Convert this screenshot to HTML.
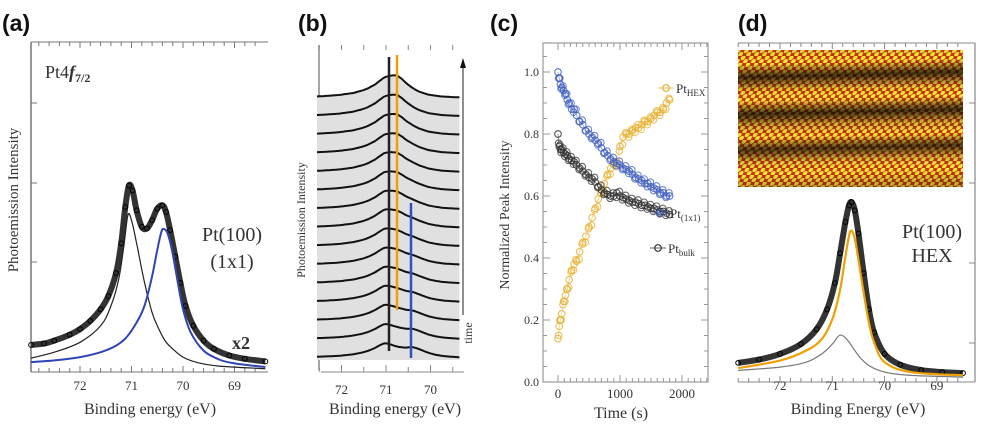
<!DOCTYPE html>
<html><head><meta charset="utf-8">
<style>
html,body{margin:0;padding:0;background:#fff}
svg{display:block}
text{font-family:"Liberation Serif",serif;fill:#333}
.lab{font-family:"Liberation Sans",sans-serif;font-weight:bold;fill:#111}
</style></head>
<body>
<svg id="fig" width="984" height="438" viewBox="0 0 984 438" xmlns="http://www.w3.org/2000/svg">
<defs>
<linearGradient id="stmBands" x1="0" y1="0" x2="0.04" y2="1">
<stop offset="0" stop-color="#000" stop-opacity="0.1"/><stop offset="0.1" stop-color="#000" stop-opacity="0"/>
<stop offset="0.2" stop-color="#000" stop-opacity="0.75"/><stop offset="0.3" stop-color="#000" stop-opacity="0.1"/>
<stop offset="0.37" stop-color="#000" stop-opacity="0"/><stop offset="0.47" stop-color="#000" stop-opacity="0.75"/>
<stop offset="0.56" stop-color="#000" stop-opacity="0.2"/><stop offset="0.64" stop-color="#000" stop-opacity="0"/>
<stop offset="0.73" stop-color="#000" stop-opacity="0.7"/><stop offset="0.82" stop-color="#000" stop-opacity="0.15"/>
<stop offset="0.9" stop-color="#000" stop-opacity="0"/><stop offset="1" stop-color="#000" stop-opacity="0.25"/>
</linearGradient>
<pattern id="stmDots" width="8" height="7" patternUnits="userSpaceOnUse" patternTransform="skewX(-25)">
<circle cx="2" cy="1.75" r="2.3" fill="#ffe640"/>
<circle cx="6" cy="5.25" r="2.3" fill="#ffe640"/>
</pattern>
</defs>
<g id="pa"></g>
<g id="pb"></g>
<g id="pc"></g>
<g id="pd"></g>
</svg>
<script>
// ---------- Panel (a) data ----------
const aDataE = [72.95,72.7,72.5,72.2,72.0,71.8,71.6,71.45,71.3,71.2,71.12,71.05,70.98,70.9,70.8,70.7,70.6,70.5,70.4,70.33,70.25,70.15,70.05,69.95,69.8,69.6,69.4,69.1,68.8,68.4];
const aDataI = [8.2,8.6,9.5,11.3,13,15.5,19,23,30,39,50,56.5,55,49,44,43.5,46,49.5,50.5,48.5,43,35,27,20,14,9.5,7,5,4,3.2];
const aBulkE = [72.95,72.5,72.0,71.6,71.4,71.25,71.15,71.07,71.0,70.9,70.8,70.7,70.6,70.5,70.35,70.2,70.0,69.7,69.3,68.4];
const aBulkI = [4.2,6,9,14,20,28,38,47.5,46,39,31,24,18,14,9.5,7,4.5,2.8,1.8,1.0];
const aSurfE = [72.95,72.5,72.0,71.6,71.3,71.1,70.9,70.75,70.6,70.5,70.42,70.37,70.3,70.2,70.1,70.0,69.85,69.6,69.3,69.0,68.4];
const aSurfI = [3,3.5,4.5,6,8,10.5,15,20,29,37,42.5,43.3,42,36,27,19,12,6.5,3.8,2.6,1.5];
const aXTicks = [72,71,70,69];

// ---------- Panel (b) data ----------
const bProfileE = [72.8,72.4,72.0,71.7,71.5,71.35,71.2,71.1,71.0,70.9,70.8,70.65,70.5,70.3,70.0,69.7,69.4,69.0];
const bProfileI = [0.05,0.08,0.14,0.24,0.36,0.5,0.7,0.88,1.0,0.9,0.72,0.48,0.3,0.16,0.07,0.035,0.02,0.01];
const bBulkAmp = [11,11,11,11,11.5,11.5,11.5,12,12,12,12,12,12,12,12];
const bHexAmp  = [15,14,13,12,11,10,9,8,7,6,5,4,3,1.5,0];
const bSurfAmp = [0,0.5,1,1.5,2,2.5,3,3.5,4,4.5,5,5.5,6,7,8];
const bXTicks = [72,71,70];

// ---------- Panel (c) data ----------
const cTimeSurf = [0,20,40,60,90,120,150,180,220,260,300,350,400,450,500,550,600,650,700,750,800,850,900,950,1000,1050,1100,1150,1200,1250,1300,1350,1400,1450,1500,1550,1600,1650,1700,1750,1800];
const cSurf = [1.0,0.98,0.96,0.95,0.94,0.93,0.91,0.90,0.88,0.88,0.86,0.84,0.83,0.81,0.80,0.79,0.78,0.77,0.755,0.74,0.73,0.72,0.71,0.705,0.70,0.69,0.685,0.68,0.67,0.66,0.655,0.65,0.64,0.64,0.63,0.625,0.62,0.61,0.61,0.60,0.60];
const cBulk = [0.80,0.76,0.75,0.75,0.74,0.735,0.73,0.72,0.715,0.71,0.70,0.69,0.68,0.67,0.66,0.655,0.645,0.63,0.62,0.61,0.605,0.60,0.60,0.61,0.60,0.595,0.59,0.585,0.58,0.58,0.575,0.57,0.57,0.565,0.56,0.56,0.555,0.55,0.55,0.545,0.54];
const cHex  = [0.14,0.18,0.20,0.22,0.26,0.28,0.30,0.33,0.36,0.38,0.39,0.42,0.45,0.47,0.50,0.53,0.56,0.59,0.61,0.64,0.67,0.69,0.70,0.71,0.76,0.79,0.80,0.80,0.81,0.82,0.82,0.83,0.84,0.84,0.85,0.86,0.87,0.87,0.88,0.90,0.91];
const cYTicks = [0.0,0.2,0.4,0.6,0.8,1.0];
const cXTicks = [0,1000,2000];

// ---------- Panel (d) data ----------
const dDataE = [72.8,72.4,72.0,71.6,71.3,71.1,70.95,70.85,70.75,70.68,70.63,70.57,70.5,70.4,70.3,70.2,70.0,69.7,69.3,68.9,68.5];
const dDataI = [5.8,6.8,8.5,11.5,16,22,30,39,48.5,53.5,54.5,52,45,33,22,15,8.5,5.2,3.6,3,2.7];
const dHexE = [72.8,72.0,71.5,71.2,71.0,70.85,70.75,70.66,70.58,70.5,70.4,70.3,70.2,70.0,69.5,68.5];
const dHexI = [4.2,6.5,9.5,13,19,28,38,45.5,44,37,27,18,12,6,3,2];
const dBulkE = [72.8,72.0,71.5,71.2,71.0,70.85,70.7,70.5,70.3,70.0,69.5,68.5];
const dBulkI = [3.5,4.5,6,8.5,11.5,14.2,12.5,8,5,3,2,1.5];
const dXTicks = [72,71,70,69];

// ---------- helpers ----------
const NS = "http://www.w3.org/2000/svg";
function mk(tag, attrs, parent){const e=document.createElementNS(NS,tag);for(const k in attrs)e.setAttribute(k,attrs[k]);if(parent)parent.appendChild(e);return e;}
function smooth(pts){
  let d="M"+pts[0][0].toFixed(1)+","+pts[0][1].toFixed(1);
  for(let i=0;i<pts.length-1;i++){
    const p0=pts[Math.max(0,i-1)],p1=pts[i],p2=pts[i+1],p3=pts[Math.min(pts.length-1,i+2)];
    const c1=[p1[0]+(p2[0]-p0[0])/6,p1[1]+(p2[1]-p0[1])/6];
    const c2=[p2[0]-(p3[0]-p1[0])/6,p2[1]-(p3[1]-p1[1])/6];
    d+=" C"+c1[0].toFixed(1)+","+c1[1].toFixed(1)+" "+c2[0].toFixed(1)+","+c2[1].toFixed(1)+" "+p2[0].toFixed(1)+","+p2[1].toFixed(1);
  }
  return d;
}
function txt(g,x,y,s,size,extra){const t=mk("text",Object.assign({x:x,y:y,"font-size":size},extra||{}),g);t.textContent=s;return t;}

// ---------- Panel (a) ----------
(function(){
  const g=document.getElementById("pa");
  const X0=31,X1=268,Y0=42,Y1=372;
  const xs=e=>80+(72-e)*51.5, ys=v=>Y1-v*3.3;
  const ax=mk("g",{},g);
  
  mk("line",{x1:X0,y1:Y0,x2:X0,y2:Y1,stroke:"#777","stroke-width":1.5},ax);
  mk("line",{x1:X0,y1:Y0,x2:X1,y2:Y0,stroke:"#777","stroke-width":1},ax);
  mk("line",{x1:X0,y1:Y1,x2:X1,y2:Y1,stroke:"#777","stroke-width":1},ax);
  for(let e=72.8;e>=68.5;e-=0.2){const x=xs(e);const maj=Math.abs(e-Math.round(e))<0.01;
    mk("line",{x1:x,y1:Y0,x2:x,y2:Y0+(maj?6:4),stroke:"#777"},ax);
    mk("line",{x1:x,y1:Y1,x2:x,y2:Y1-(maj?6:4),stroke:"#777"},ax);}
  [103,183,262].forEach(y=>mk("line",{x1:X0,y1:y,x2:X0+6,y2:y,stroke:"#777"},ax));
  aXTicks.forEach(t=>{const tl=txt(g,xs(t),390,String(t),13,{"text-anchor":"middle"});
    });
  const dp=mk("path",{d:smooth(aDataE.map((e,i)=>[xs(e),ys(aDataI[i])])),fill:"none",stroke:"#333","stroke-width":6,"stroke-linejoin":"round"},g);
  
  aDataE.forEach((e,i)=>{const c=mk("circle",{cx:xs(e),cy:ys(aDataI[i]),r:2.4,fill:"none",stroke:"#000","stroke-width":1},g);
    });
  const bp=mk("path",{d:smooth(aBulkE.map((e,i)=>[xs(e),ys(aBulkI[i])])),fill:"none",stroke:"#222","stroke-width":1.2},g);
  
  const sp=mk("path",{d:smooth(aSurfE.map((e,i)=>[xs(e),ys(aSurfI[i])])),fill:"none",stroke:"#2f45b5","stroke-width":2},g);
  
  let t=txt(g,2,31,"(a)",23,{class:"lab"});
  t=mk("text",{x:45,y:78,"font-size":18},g);t.innerHTML='Pt4<tspan font-style="italic" font-weight="bold">f</tspan><tspan font-size="12" dy="4" font-weight="bold">7/2</tspan>';
  
  t=txt(g,232,241,"Pt(100)",20,{"text-anchor":"middle"});
  t=txt(g,232,268,"(1x1)",20,{"text-anchor":"middle"});
  t=txt(g,232,349,"x2",18,{"font-weight":"bold",fill:"#111"});
  t=txt(g,18,200,"Photoemission Intensity",15,{"text-anchor":"middle",transform:"rotate(-90 18 200)"});
  t=txt(g,150,414,"Binding energy (eV)",16,{"text-anchor":"middle"});
})();

// ---------- Panel (b) ----------
(function(){
  const g=document.getElementById("pb");
  const X0=321,X1=464,Y1=372;
  const xs=e=>386+(71-e)*44.5;
  const ax=mk("g",{},g);
  
  mk("line",{x1:X0-2,y1:45,x2:X0-2,y2:Y1-2,stroke:"#888","stroke-width":1.5},ax);
  mk("line",{x1:X0,y1:Y1,x2:X1,y2:Y1,stroke:"#888","stroke-width":1},ax);
  for(let e=72.5;e>=69.4;e-=0.5){const x=xs(e);const maj=Math.abs(e-Math.round(e))<0.01;
    mk("line",{x1:x,y1:45,x2:x,y2:50,stroke:"#888"},ax);
    mk("line",{x1:x,y1:Y1,x2:x,y2:Y1-(maj?7:5),stroke:"#888"},ax);}
  bXTicks.forEach(t=>{const tl=txt(g,xs(t),394,String(t),13,{"text-anchor":"middle"});
    });
  function prof(e){
    if(e>=bProfileE[0])return bProfileI[0]; if(e<=bProfileE[bProfileE.length-1])return bProfileI[bProfileI.length-1];
    for(let i=0;i<bProfileE.length-1;i++){if(e<=bProfileE[i]&&e>=bProfileE[i+1]){const f=(bProfileE[i]-e)/(bProfileE[i]-bProfileE[i+1]);return bProfileI[i]+f*(bProfileI[i+1]-bProfileI[i]);}}
    return 0;}
  const n=bBulkAmp.length, step=(358-98)/(n-1);
  const curves=[];
  for(let k=0;k<n;k++){
    const base=98+k*step;
    const pts=[];
    for(let e=72.55;e>=69.35;e-=0.05){
      const v=bBulkAmp[k]*prof(e-0.03)+bHexAmp[k]*prof(e+0.25)+bSurfAmp[k]*prof(e+0.62);
      pts.push([xs(e),base-v*1.05]);
    }
    curves.push(pts);
  }
  const top=curves[0];
  const fillD=smooth(top)+" L"+top[top.length-1][0].toFixed(1)+",360 L"+top[0][0].toFixed(1)+",360 Z";
  const bg=mk("path",{d:fillD,fill:"#e0e0e0"},g);
  
  curves.forEach((pts,k)=>{
    const p=mk("path",{d:smooth(pts),fill:"none",stroke:"#111","stroke-width":2},g);
    
    
  });
  let l=mk("line",{x1:389,y1:57,x2:389,y2:351,stroke:"#222","stroke-width":2.5},g);
  l=mk("line",{x1:397,y1:55,x2:397,y2:310,stroke:"#f0a000","stroke-width":2.5},g);
  l=mk("line",{x1:411,y1:203,x2:411,y2:358,stroke:"#3050c0","stroke-width":2.5},g);
  l=mk("line",{x1:463,y1:315,x2:463,y2:66,stroke:"#222","stroke-width":1},g);
  mk("polygon",{points:"463,58 460,68 466,68",fill:"#111"},g);
  let t=txt(g,472,333,"time",12,{"text-anchor":"middle",transform:"rotate(-90 472 333)"});
  t=txt(g,298,31,"(b)",23,{class:"lab"});
  t=txt(g,305,220,"Photoemission Intensity",12,{"text-anchor":"middle",transform:"rotate(-90 305 220)"});
  t=txt(g,395,414,"Binding energy (eV)",16,{"text-anchor":"middle"});
})();

// ---------- Panel (c) ----------
(function(){
  const g=document.getElementById("pc");
  const X0=543,X1=708,Y0=43,Y1=382;
  const xs=t=>558+t*0.062, ys=v=>Y1-v*310;
  const ax=mk("g",{},g);
  
  mk("rect",{x:X0,y:Y0,width:X1-X0,height:Y1-Y0,fill:"none",stroke:"#999","stroke-width":1.2},ax);
  for(let t=0;t<=2400;t+=100){const x=xs(t);const maj=t%1000===0;
    mk("line",{x1:x,y1:Y0,x2:x,y2:Y0+(maj?7:4),stroke:"#999"},ax);
    mk("line",{x1:x,y1:Y1,x2:x,y2:Y1-(maj?7:4),stroke:"#999"},ax);}
  for(let v=0;v<=1.08;v+=0.05){const y=ys(v);const maj=Math.abs(v*5-Math.round(v*5))<0.01;
    mk("line",{x1:X0,y1:y,x2:X0+(maj?7:4),y2:y,stroke:"#999"},ax);
    mk("line",{x1:X1,y1:y,x2:X1-(maj?7:4),y2:y,stroke:"#999"},ax);}
  cYTicks.forEach(v=>{const tl=txt(g,X0-4,ys(v)+4,v.toFixed(1),12,{"text-anchor":"end"});
    });
  cXTicks.forEach(t=>{const tl=txt(g,xs(t),398,String(t),13,{"text-anchor":"middle"});
    });
  function series(vals,color,name){
    const sg=mk("g",{},g);
    
    mk("path",{d:"M"+cTimeSurf.map((t,i)=>xs(t).toFixed(1)+","+ys(vals[i]).toFixed(1)).join(" L"),fill:"none",stroke:color,"stroke-width":0.8,opacity:0.6},sg);
    cTimeSurf.forEach((t,i)=>{
      const c=mk("circle",{cx:xs(t),cy:ys(vals[i]),r:3.3,fill:"none",stroke:color,"stroke-width":1.1,opacity:0.85},sg);
      
      
      if(i>0){const c2=mk("circle",{cx:xs(t-10),cy:ys((vals[i]+vals[i-1])/2)+(i%2?3:-3),r:3.3,fill:"none",stroke:color,"stroke-width":1.1,opacity:0.75},sg);
        
        }
    });
  }
  series(cHex,"#e8b030","series-hex");
  series(cSurf,"#4060c0","series-1x1");
  series(cBulk,"#333","series-bulk");
  function leg(x,y,color,main,sub,name){
    const lg=mk("g",{},g);
    mk("line",{x1:x-12,y1:y,x2:x+4,y2:y,stroke:color,"stroke-width":0.8},lg);
    mk("circle",{cx:x-4,cy:y,r:3.3,fill:"none",stroke:color,"stroke-width":1.2},lg);
    const t=mk("text",{x:x+6,y:y+5,"font-size":13},lg);t.innerHTML=main+'<tspan font-size="9" dy="3">'+sub+'</tspan>';
  }
  leg(670,88,"#e8b030","Pt","HEX","legend-hex");
  leg(664,213,"#4060c0","Pt","(1x1)","legend-1x1");
  leg(662,248,"#333","Pt","bulk","legend-bulk");
  let t=txt(g,490,31,"(c)",23,{class:"lab"});
  t=txt(g,509,215,"Normalized Peak Intensity",14,{"text-anchor":"middle",transform:"rotate(-90 509 215)"});
  t=txt(g,621,418,"Time (s)",16,{"text-anchor":"middle"});
})();

// ---------- Panel (d) ----------
(function(){
  const g=document.getElementById("pd");
  const X0=738,X1=975,Y0=43,Y1=382;
  const xs=e=>780+(72-e)*52.3, ys=v=>Y1-v*3.3;
  const ax=mk("g",{},g);
  
  mk("line",{x1:X0,y1:Y0,x2:X1,y2:Y0,stroke:"#888","stroke-width":1},ax);
  mk("line",{x1:X1,y1:Y0,x2:X1,y2:Y1,stroke:"#888","stroke-width":1.2},ax);
  mk("line",{x1:X0,y1:Y1,x2:X1,y2:Y1,stroke:"#888","stroke-width":1},ax);
  for(let e=72.8;e>=68.5;e-=0.2){const x=xs(e);const maj=Math.abs(e-Math.round(e))<0.01;
    mk("line",{x1:x,y1:Y0,x2:x,y2:Y0+(maj?6:4),stroke:"#888"},ax);
    mk("line",{x1:x,y1:Y1,x2:x,y2:Y1-(maj?6:4),stroke:"#888"},ax);}
  [103,183,263,343].forEach(y=>mk("line",{x1:X1,y1:y,x2:X1-6,y2:y,stroke:"#888"},ax));
  dXTicks.forEach(t=>{const tl=txt(g,xs(t),390,String(t),13,{"text-anchor":"middle"});
    });
  const img=mk("g",{},g);
  
  mk("rect",{x:738,y:50,width:225,height:137,fill:"#c83808"},img);
  mk("rect",{x:738,y:50,width:225,height:137,fill:"url(#stmDots)"},img);
  mk("rect",{x:738,y:50,width:225,height:137,fill:"url(#stmBands)"},img);
  const dp=mk("path",{d:smooth(dDataE.map((e,i)=>[xs(e),ys(dDataI[i])])),fill:"none",stroke:"#333","stroke-width":6,"stroke-linejoin":"round"},g);
  
  dDataE.forEach((e,i)=>{const c=mk("circle",{cx:xs(e),cy:ys(dDataI[i]),r:2.4,fill:"none",stroke:"#000","stroke-width":1},g);
    });
  const hp=mk("path",{d:smooth(dHexE.map((e,i)=>[xs(e),ys(dHexI[i])])),fill:"none",stroke:"#f0a000","stroke-width":2.2},g);
  
  const bp=mk("path",{d:smooth(dBulkE.map((e,i)=>[xs(e),ys(dBulkI[i])])),fill:"none",stroke:"#777","stroke-width":1.2},g);
  
  let t=txt(g,738,31,"(d)",23,{class:"lab"});
  t=txt(g,932,238,"Pt(100)",20,{"text-anchor":"middle"});
  t=txt(g,932,262,"HEX",20,{"text-anchor":"middle"});
  t=txt(g,858,414,"Binding Energy (eV)",16,{"text-anchor":"middle"});
})();
</script>
</body></html>
